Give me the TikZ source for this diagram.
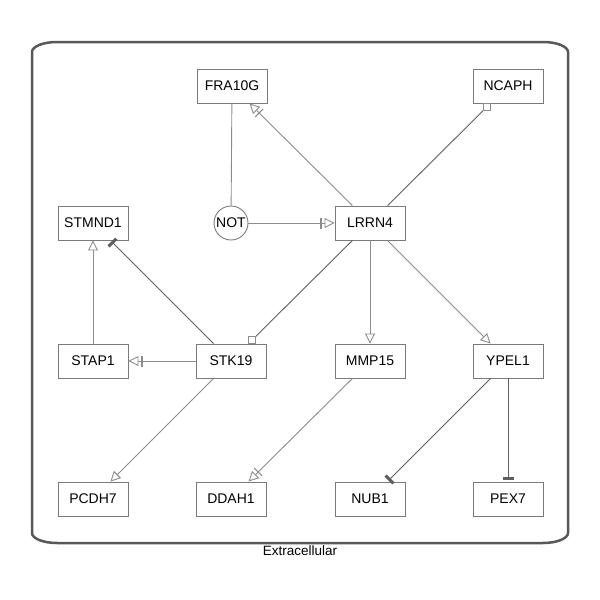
\documentclass[tikz,border=0pt]{standalone}
\usepackage{fontspec}
\setmainfont{Liberation Sans}
\usetikzlibrary{arrows.meta}
\definecolor{edgegray}{HTML}{8C8C8C}
\definecolor{edgedark}{HTML}{5E5E5E}
\definecolor{boxgray}{HTML}{7A7A7A}
\definecolor{framegray}{HTML}{585858}

\begin{document}
\begin{tikzpicture}[x=1pt,y=-1pt,
  gene/.style={draw=boxgray, line width=0.9pt, fill=white, minimum width=70pt,
    minimum height=34pt, inner sep=0pt, font=\fontsize{14}{16}\selectfont},
  logic/.style={circle, draw=boxgray, line width=0.9pt, fill=white,
    minimum size=34pt, inner sep=0pt, font=\fontsize{14}{16}\selectfont},
  plain/.style={draw=edgegray, line width=0.9pt},
  act/.style={draw=edgegray, line width=0.9pt,
    -{Triangle[length=10pt, width=10pt, fill=white]}},
  actbar/.style={draw=edgegray, line width=0.9pt,
    -{Bar[width=11pt, line width=1.1pt, sep=3pt] Triangle[length=10pt, width=10pt, fill=white]}},
  inh/.style={draw=edgedark, line width=0.9pt, shorten >=1.5pt,
    -{Bar[width=11pt, line width=3pt]}},
  sq/.style={draw=edgedark, line width=0.9pt},
  sqtip/.style={rectangle, draw=edgegray, line width=0.9pt, fill=white,
    minimum size=7pt, inner sep=0pt},
]
\useasboundingbox (0,0) rectangle (600,600);

% compartment frame
\draw[framegray, line width=2.5pt]
  (32,52) -- (32,533) .. controls (32,538.5) and (43.2,543) .. (57,543)
  -- (543,543) .. controls (556.8,543) and (568,538.5) .. (568,533)
  -- (568,52) .. controls (568,46.5) and (556.8,42) .. (543,42)
  -- (57,42) .. controls (43.2,42) and (32,46.5) .. (32,52) -- cycle;
\node[anchor=north, inner sep=1pt, font=\fontsize{13.5}{15}\selectfont]
  (extra) at (300,545) {Extracellular};

% genes
\node[gene]  (fra)    at (232,86)  {FRA10G};
\node[gene]  (ncaph)  at (508,86)  {NCAPH};
\node[gene]  (stmnd1) at (93,223)  {STMND1};
\node[logic] (not)    at (231,223) {NOT};
\node[gene]  (lrrn4)  at (370,223) {LRRN4};
\node[gene]  (stap1)  at (93,361)  {STAP1};
\node[gene]  (stk19)  at (231,361) {STK19};
\node[gene]  (mmp15)  at (370,361) {MMP15};
\node[gene]  (ypel1)  at (508,361) {YPEL1};
\node[gene]  (pcdh7)  at (93,499)  {PCDH7};
\node[gene]  (ddah1)  at (231,499) {DDAH1};
\node[gene]  (nub1)   at (370,499) {NUB1};
\node[gene]  (pex7)   at (508,499) {PEX7};

% interactions
\draw[plain]  (fra) -- (not);
\draw[actbar] (not) -- (lrrn4);
\draw[actbar] (lrrn4) -- (fra);
\draw[sq]     (lrrn4) -- (ncaph) node[sqtip, pos=1, anchor=north east, xshift=0.5pt] (sqa) {};
\draw[inh]    (stk19) -- (stmnd1);
\draw[act]    (stap1) -- (stmnd1);
\draw[sq]     (lrrn4) -- (stk19) node[sqtip, pos=1, anchor=south west, xshift=-0.5pt] (sqb) {};
\draw[actbar] (stk19) -- (stap1);
\draw[act]    (lrrn4) -- (mmp15);
\draw[act]    (lrrn4) -- (ypel1);
\draw[act]    (stk19) -- (pcdh7);
\draw[actbar] (mmp15) -- (ddah1);
\draw[inh]    (ypel1) -- (nub1);
\draw[inh]    (ypel1) -- (pex7);
\end{tikzpicture}
\end{document}
